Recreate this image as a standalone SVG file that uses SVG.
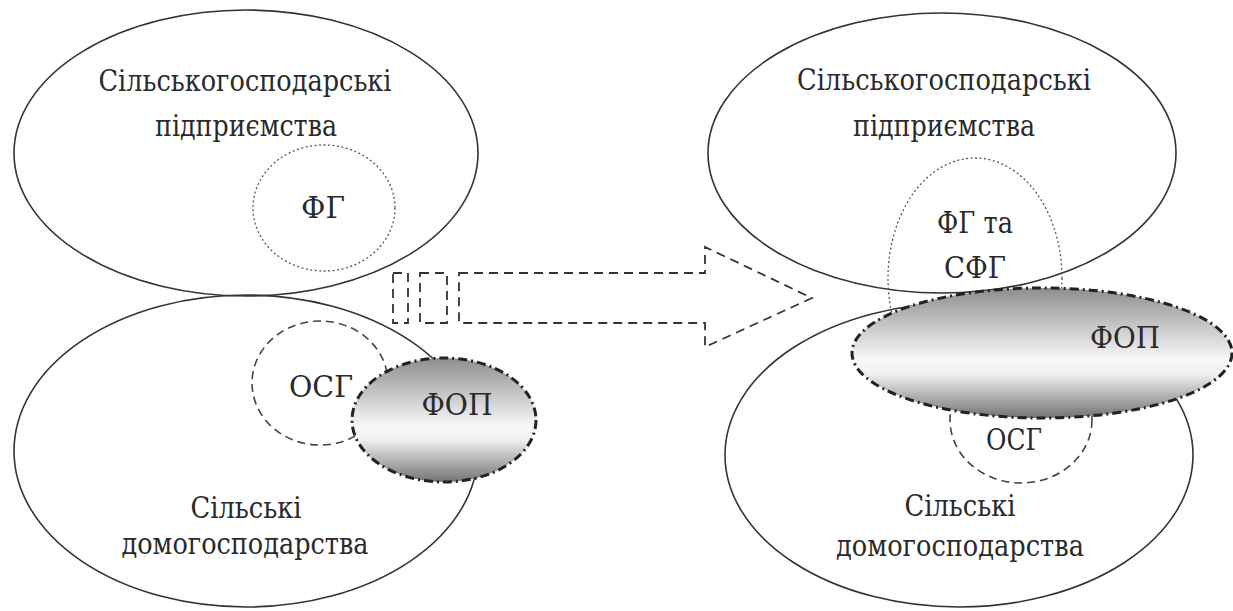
<svg xmlns="http://www.w3.org/2000/svg" width="1233" height="611" viewBox="0 0 1233 611">
<defs>
<linearGradient id="fopGrad" x1="0" y1="0" x2="0" y2="1">
<stop offset="0" stop-color="#8e8e8e"/>
<stop offset="0.3" stop-color="#c8c8c8"/>
<stop offset="0.55" stop-color="#f8f8f8"/>
<stop offset="0.66" stop-color="#f0f0f0"/>
<stop offset="1" stop-color="#737373"/>
</linearGradient>
<style>
.big{fill:none;stroke:#333;stroke-width:1.6}
.dot{fill:none;stroke:#555;stroke-width:1.3;stroke-dasharray:2 2.5}
.dash{fill:none;stroke:#444;stroke-width:1.6;stroke-dasharray:8 5}
.fop{fill:url(#fopGrad);stroke:#222;stroke-width:3;stroke-dasharray:9 4 2 4}
.arr{fill:none;stroke:#333;stroke-width:1.8;stroke-dasharray:9 6}
.t{font-family:"DejaVu Serif","Liberation Serif",serif;font-size:29px;fill:#2a2a2a;text-anchor:middle}
</style>
</defs>
<rect width="1233" height="611" fill="#fff"/>

<g id="left-enterprises">
<ellipse class="big" cx="246" cy="153" rx="232" ry="143"/>
<text class="t" x="245" y="91" textLength="293" lengthAdjust="spacingAndGlyphs">Сільськогосподарські</text>
<text class="t" x="246" y="136" textLength="182" lengthAdjust="spacingAndGlyphs">підприємства</text>
</g>
<g id="left-households">
<ellipse class="big" cx="246" cy="451" rx="232" ry="156"/>
<text class="t" x="246" y="518" textLength="111" lengthAdjust="spacingAndGlyphs">Сільські</text>
<text class="t" x="245" y="554" textLength="247" lengthAdjust="spacingAndGlyphs">домогосподарства</text>
</g>
<g id="left-fg">
<ellipse class="dot" cx="324" cy="208" rx="71" ry="63"/>
<text class="t" x="323" y="218" textLength="44" lengthAdjust="spacingAndGlyphs">ФГ</text>
</g>
<g id="left-osg">
<ellipse class="dash" cx="320" cy="383" rx="68" ry="62"/>
<text class="t" x="321" y="397" textLength="64" lengthAdjust="spacingAndGlyphs">ОСГ</text>
</g>
<g id="left-fop">
<ellipse class="fop" cx="444" cy="420" rx="92" ry="62"/>
<text class="t" x="457" y="415" textLength="71" lengthAdjust="spacingAndGlyphs">ФОП</text>
</g>

<g id="connectors">
<rect class="arr" x="393" y="273" width="15" height="50"/>
<rect class="arr" x="420" y="273" width="27" height="50"/>
<path class="arr" d="M459,273 L705,273 L705,247 L812,298 L705,347 L705,323 L459,323 Z"/>
</g>

<g id="right-enterprises">
<ellipse class="big" cx="942" cy="153" rx="234" ry="140"/>
<text class="t" x="944" y="90" textLength="294" lengthAdjust="spacingAndGlyphs">Сільськогосподарські</text>
<text class="t" x="944" y="136" textLength="182" lengthAdjust="spacingAndGlyphs">підприємства</text>
</g>
<g id="right-households">
<ellipse class="big" cx="959" cy="455" rx="234" ry="152"/>
<text class="t" x="960" y="516" textLength="111" lengthAdjust="spacingAndGlyphs">Сільські</text>
<text class="t" x="960" y="556" textLength="248" lengthAdjust="spacingAndGlyphs">домогосподарства</text>
</g>
<g id="right-fg-sfg">
<ellipse class="dot" cx="975" cy="278" rx="87" ry="120"/>
<text class="t" x="975" y="233" textLength="76" lengthAdjust="spacingAndGlyphs">ФГ та</text>
<text class="t" x="975" y="278" textLength="62" lengthAdjust="spacingAndGlyphs">СФГ</text>
</g>
<g id="right-osg">
<ellipse class="dash" cx="1021" cy="420" rx="71" ry="63"/>
<text class="t" x="1014" y="450" textLength="56" lengthAdjust="spacingAndGlyphs">ОСГ</text>
</g>
<g id="right-fop">
<ellipse class="fop" cx="1042" cy="353" rx="190" ry="65"/>
<text class="t" x="1125" y="348" textLength="70" lengthAdjust="spacingAndGlyphs">ФОП</text>
</g>
</svg>
